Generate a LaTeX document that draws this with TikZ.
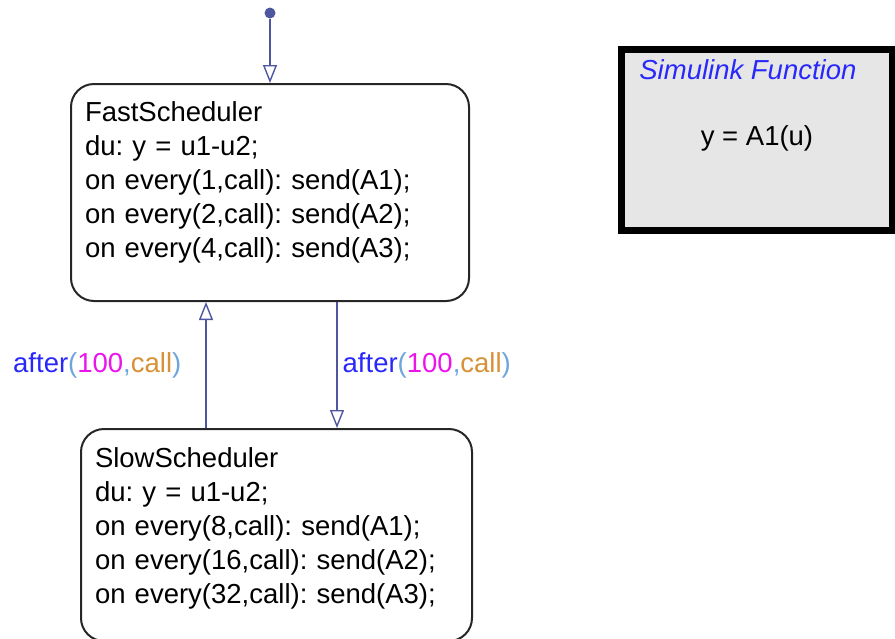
\documentclass[tikz,border=0pt]{standalone}
\usepackage{fontspec}
\setmainfont{Liberation Sans}
\usetikzlibrary{arrows.meta,positioning}
\definecolor{trblue}{RGB}{78,86,160}
\definecolor{kwblue}{RGB}{40,40,250}
\definecolor{parblue}{RGB}{110,165,220}
\definecolor{nummag}{RGB}{235,20,235}
\definecolor{evorange}{RGB}{215,145,55}
\definecolor{sfgray}{RGB}{230,230,230}
\newcommand{\chartfont}{\fontsize{13.75pt}{17pt}\selectfont\frenchspacing}
\newcommand{\aftercall}{\textcolor{kwblue}{after}\textcolor{parblue}{(}\textcolor{nummag}{100}\textcolor{parblue}{,}\textcolor{evorange}{call}\textcolor{parblue}{)}}
\tikzset{
  state/.style={draw=black!85, line width=1pt, rounded corners=11.5pt, align=left, inner xsep=7pt, font=\chartfont, anchor=north west},
  trans/.style={draw=trblue, line width=0.7pt, -{Triangle[open, length=9pt, width=7pt]}},
  guard/.style={font=\chartfont, inner sep=0pt},
  sfun/.style={draw=black, line width=3.5pt, fill=sfgray}
}
\begin{document}
\begin{tikzpicture}[x=0.5pt, y=-0.5pt]
  \useasboundingbox (0,0) rectangle (895,638);
  \clip (0,0) rectangle (895,638);

  % states
  \node[state, text width=185pt, minimum height=108.5pt] (fast) at (70,83) {FastScheduler\\du: y = u1-u2;\\on every(1,call): send(A1);\\on every(2,call): send(A2);\\on every(4,call): send(A3);\\[-4pt] \mbox{}};
  \node[state, text width=181.5pt, minimum height=106pt] (slow) at (80,428) {SlowScheduler\\du: y = u1-u2;\\on every(8,call): send(A1);\\on every(16,call): send(A2);\\on every(32,call): send(A3);\\[-8pt] \mbox{}};

  % default transition
  \node[circle, fill=trblue, inner sep=0pt, minimum size=5.5pt] (init) at (270,13) {};
  \draw[trans] (init) -- (init |- fast.north);

  % transitions
  \coordinate (upx) at (206,0);
  \coordinate (downx) at (337,0);
  \draw[trans] (slow.north -| upx) -- node[guard, left=12pt] {\aftercall} (fast.south -| upx);
  \draw[trans] (fast.south -| downx) -- node[guard, right=2.5pt] {\aftercall} (slow.north -| downx);

  % simulink function
  \node[sfun, minimum width=135.5pt, minimum height=90.5pt] (sfn) at (757,140) {};
  \node[font=\chartfont\itshape, text=kwblue, anchor=west, inner sep=0pt] (sfname) at (639,70) {Simulink Function};
  \node[font=\chartfont, inner sep=0pt] (sfbody) at (757,138) {y = A1(u)};
\end{tikzpicture}
\end{document}
